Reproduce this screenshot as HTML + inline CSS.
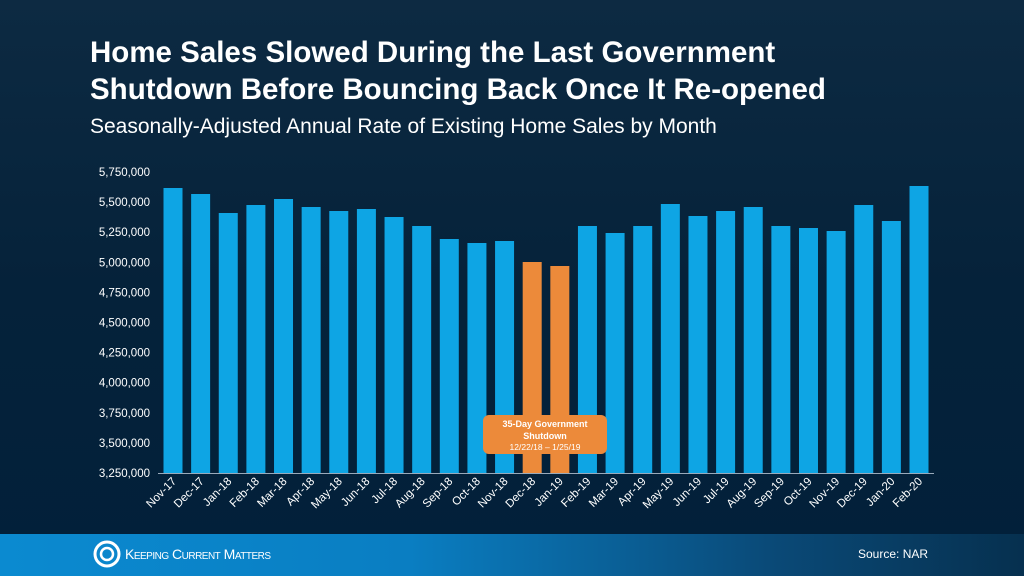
<!DOCTYPE html>
<html><head><style>
body{margin:0;width:1024px;height:576px;overflow:hidden;font-family:"Liberation Sans",sans-serif;background:linear-gradient(180deg,#0d2a42 0%,#05223a 50%,#02203a 100%);position:relative}
.t{position:absolute;left:90px;top:34px;color:#fff;font-weight:bold;font-size:29.5px;line-height:37px;white-space:nowrap}
.s{position:absolute;left:90px;top:115px;color:#fff;font-size:21px;white-space:nowrap}
.f{position:absolute;left:0;top:534px;width:1024px;height:42px;background:linear-gradient(90deg,#0b8ad0 0%,#0a7ec2 40%,#0a4a78 75%,#06304f 100%)}
</style></head><body>
<div class="t">Home Sales Slowed During the Last Government<br>Shutdown Before Bouncing Back Once It Re-opened</div>
<div class="s">Seasonally-Adjusted Annual Rate of Existing Home Sales by Month</div>
<svg width="1024" height="576" style="position:absolute;left:0;top:0" font-family="Liberation Sans,sans-serif">
<g id="y" fill="#fff" font-size="11.5" text-anchor="end"></g>
<g id="b"></g>
<line x1="158" x2="934" y1="473.5" y2="473.5" stroke="#9ab" stroke-width="1"/>
<g id="x" fill="#fff" font-size="11.5"></g>
<rect x="483" y="415" width="124" height="39" rx="6" fill="#ec8a3a"/>
<text x="545" y="427" fill="#fff" font-size="9" font-weight="bold" text-anchor="middle">35-Day Government</text>
<text x="545" y="439" fill="#fff" font-size="9" font-weight="bold" text-anchor="middle">Shutdown</text>
<text x="545" y="450" fill="#fff" font-size="8.5" text-anchor="middle">12/22/18 – 1/25/19</text>
</svg>
<div class="f">
<svg width="30" height="30" style="position:absolute;left:92px;top:5px"><circle cx="15" cy="15" r="12" fill="none" stroke="#fff" stroke-width="3"/><circle cx="15" cy="15" r="6" fill="none" stroke="#fff" stroke-width="2.5"/></svg>
<div style="position:absolute;left:125px;top:12px;color:#fff;font-size:14px;font-variant:small-caps;letter-spacing:-0.5px">Keeping Current Matters</div>
<div style="position:absolute;left:858px;top:13px;color:#fff;font-size:12px">Source: NAR</div>
</div>
<script>
var y=document.getElementById('y'),b=document.getElementById('b'),x=document.getElementById('x');
for(var i=0;i<=10;i++){var v=3250000+i*250000,py=473-i*30.1;var t=document.createElementNS('http://www.w3.org/2000/svg','text');t.setAttribute('x',150);t.setAttribute('y',py+4);t.textContent=v.toLocaleString('en-US');y.appendChild(t);}
var tops=[188,194,213,205,199,207,211,209,217,226,239,243,241,262,266,226,233,226,204,216,211,207,226,228,231,205,221,186];
var lab=['Nov-17','Dec-17','Jan-18','Feb-18','Mar-18','Apr-18','May-18','Jun-18','Jul-18','Aug-18','Sep-18','Oct-18','Nov-18','Dec-18','Jan-19','Feb-19','Mar-19','Apr-19','May-19','Jun-19','Jul-19','Aug-19','Sep-19','Oct-19','Nov-19','Dec-19','Jan-20','Feb-20'];
for(var i=0;i<28;i++){var c=173+i*27.63;var r=document.createElementNS('http://www.w3.org/2000/svg','rect');r.setAttribute('x',c-9.5);r.setAttribute('y',tops[i]);r.setAttribute('width',19);r.setAttribute('height',473-tops[i]);r.setAttribute('fill',(i==13||i==14)?'#ec8a3a':'#0ea5e4');b.appendChild(r);
var t=document.createElementNS('http://www.w3.org/2000/svg','text');t.setAttribute('text-anchor','end');t.setAttribute('transform','translate('+(c+4)+',482) rotate(-45)');t.textContent=lab[i];x.appendChild(t);}
</script>
</body></html>
